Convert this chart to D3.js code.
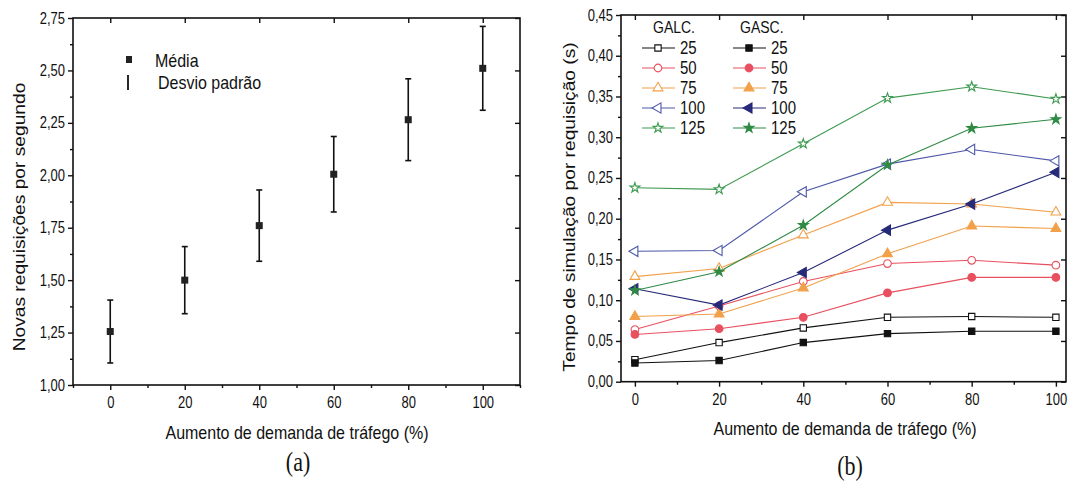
<!DOCTYPE html>
<html>
<head>
<meta charset="utf-8">
<script src="https://cdn.jsdelivr.net/npm/d3@7"></script>
<style>
  html, body { margin: 0; padding: 0; background: #fff; }
  svg { display: block; }
  text { font-family: 'Liberation Sans', Arial, sans-serif; fill: #111; }
  .axis path, .axis line { stroke: #111; }
</style>
</head>
<body>
<div id="chart"></div>
<script>
const WIDTH = 1068
const HEIGHT = 483
const SY = 1.2 // scan is stretched vertically

// (a) mean and standard deviation
const TRAFFIC = [0, 20, 40, 60, 80, 100]
const MEAN = [1.255, 1.50, 1.76, 2.005, 2.265, 2.51]
const STD = [0.15, 0.16, 0.17, 0.18, 0.195, 0.20]
const A_X_TICKS = [0, 20, 40, 60, 80, 100]
const A_Y_TICKS = [1.00, 1.25, 1.50, 1.75, 2.00, 2.25, 2.50, 2.75]

// (b) simulation time per request
const GALC_25 = [0.027, 0.048, 0.066, 0.079, 0.080, 0.079]
const GALC_50 = [0.064, 0.093, 0.123, 0.145, 0.149, 0.143]
const GALC_75 = [0.129, 0.139, 0.180, 0.220, 0.218, 0.208]
const GALC_100 = [0.160, 0.161, 0.233, 0.267, 0.285, 0.271]
const GALC_125 = [0.238, 0.236, 0.292, 0.348, 0.362, 0.347]
const GASC_25 = [0.023, 0.026, 0.048, 0.059, 0.062, 0.062]
const GASC_50 = [0.058, 0.065, 0.079, 0.109, 0.128, 0.128]
const GASC_75 = [0.080, 0.083, 0.115, 0.157, 0.191, 0.188]
const GASC_100 = [0.114, 0.094, 0.134, 0.186, 0.218, 0.257]
const GASC_125 = [0.112, 0.135, 0.192, 0.266, 0.311, 0.322]
const SIZES = ['25', '50', '75', '100', '125']
const B_Y_TICKS = [0, 0.05, 0.10, 0.15, 0.20, 0.25, 0.30, 0.35, 0.40, 0.45]

const COLORS = {
  '25': ['#111111', '#111111'],
  '50': ['#e8505f', '#e8505f'],
  '75': ['#f2a04a', '#f2a04a'],
  '100': ['#4d58a8', '#262a78'],
  '125': ['#3d9a50', '#2f8a44']
}

var series = []
SIZES.forEach((s, i) => {
  series.push({group: 'GALC', name: s, values: [GALC_25, GALC_50, GALC_75, GALC_100, GALC_125][i], filled: false})
  series.push({group: 'GASC', name: s, values: [GASC_25, GASC_50, GASC_75, GASC_100, GASC_125][i], filled: true})
})

var svg = d3.select('#chart').append('svg').attr('width', WIDTH).attr('height', HEIGHT)

var comma = d => d3.format('.2f')(d).replace('.', ',')

// stretched text, like the scanned figure
function label(text, x, y, size, opts) {
  opts = opts || {}
  var g = svg.append('g').attr('transform', `translate(${x},${y}) scale(1,${SY})` + (opts.rotate ? ' rotate(-90)' : ''))
  return g.append('text')
    .attr('text-anchor', opts.anchor || 'middle')
    .attr('dy', '0.35em')
    .style('font-size', size + 'px')
    .style('font-family', opts.family || null)
    .text(text)
}

// 坐标框: ticks outside on bottom/left, mirrored inside on top/right
function frame(x, y, xTicks, xMinor, yTicks, yMinor, xFmt, yFmt) {
  var [x0, x1] = x.range()
  var [y0, y1] = y.range()

  svg.append('rect')
    .attr('x', x0).attr('y', y1)
    .attr('width', x1 - x0).attr('height', y0 - y1)
    .attr('fill', 'none').attr('stroke', '#111').attr('stroke-width', 1.6)

  var bottom = svg.append('g').attr('class', 'axis').attr('transform', `translate(0,${y0})`)
    .call(d3.axisBottom(x).tickValues(xTicks).tickSize(5).tickSizeOuter(0).tickPadding(5).tickFormat(xFmt))
  svg.append('g').attr('class', 'axis').attr('transform', `translate(0,${y0})`)
    .call(d3.axisBottom(x).tickValues(xMinor).tickSize(3).tickSizeOuter(0).tickFormat(''))
  svg.append('g').attr('class', 'axis').attr('transform', `translate(0,${y1})`)
    .call(d3.axisBottom(x).tickValues(xTicks).tickSize(5).tickSizeOuter(0).tickFormat(''))

  var left = svg.append('g').attr('class', 'axis').attr('transform', `translate(${x0},0)`)
    .call(d3.axisLeft(y).tickValues(yTicks).tickSize(5).tickSizeOuter(0).tickPadding(3).tickFormat(yFmt))
  svg.append('g').attr('class', 'axis').attr('transform', `translate(${x0},0)`)
    .call(d3.axisLeft(y).tickValues(yMinor).tickSize(3).tickSizeOuter(0).tickFormat(''))
  svg.append('g').attr('class', 'axis').attr('transform', `translate(${x1},0)`)
    .call(d3.axisLeft(y).tickValues(yTicks).tickSize(5).tickSizeOuter(0).tickFormat(''))

  svg.selectAll('.axis path').remove()
  svg.selectAll('.axis line').attr('stroke-width', 1.4)
  bottom.selectAll('text').style('font-size', '13px').attr('fill', '#111').attr('transform', `scale(1,${SY})`)
  left.selectAll('text').style('font-size', '13px').attr('fill', '#111').attr('transform', `scale(1,${SY})`)
}

// ---------- (a) ----------
var xA = d3.scaleLinear().domain([-10, 110]).range([73, 520])
var yA = d3.scaleLinear().domain([1.0, 2.75]).range([385, 18])

frame(xA, yA, A_X_TICKS, [-10, 10, 30, 50, 70, 90, 110], A_Y_TICKS,
  d3.range(1.125, 2.75, 0.25), d => d, comma)

var dataA = TRAFFIC.map((t, i) => ({x: t, mean: MEAN[i], std: STD[i]}))
var errs = svg.append('g').selectAll('g').data(dataA).enter().append('g')
  .attr('stroke', '#111').attr('stroke-width', 1.6)
errs.append('line')
  .attr('x1', d => xA(d.x)).attr('x2', d => xA(d.x))
  .attr('y1', d => yA(d.mean - d.std)).attr('y2', d => yA(d.mean + d.std))
errs.append('line')
  .attr('x1', d => xA(d.x) - 3).attr('x2', d => xA(d.x) + 3)
  .attr('y1', d => yA(d.mean + d.std)).attr('y2', d => yA(d.mean + d.std))
errs.append('line')
  .attr('x1', d => xA(d.x) - 3).attr('x2', d => xA(d.x) + 3)
  .attr('y1', d => yA(d.mean - d.std)).attr('y2', d => yA(d.mean - d.std))
svg.append('g').selectAll('rect').data(dataA).enter().append('rect')
  .attr('x', d => xA(d.x) - 3.5).attr('y', d => yA(d.mean) - 3.5)
  .attr('width', 7).attr('height', 7).attr('fill', '#222')

// legend (a)
svg.append('rect').attr('x', 126).attr('y', 56).attr('width', 6).attr('height', 7).attr('fill', '#222')
label('Média', 155, 60, 16, {anchor: 'start'})
svg.append('line').attr('x1', 128).attr('x2', 128).attr('y1', 75).attr('y2', 90)
  .attr('stroke', '#111').attr('stroke-width', 1.8)
label('Desvio padrão', 158, 82, 16, {anchor: 'start'})

label('Novas requisições por segundo', 19, 217, 16, {rotate: true})
label('Aumento de demanda de tráfego (%)', 297, 432, 16)
label('(a)', 298, 462, 22, {family: "'Liberation Serif', 'Times New Roman', serif"})

// ---------- (b) ----------
var xB = d3.scaleLinear().domain([-3.3, 102.4]).range([621, 1066])
var yB = d3.scaleLinear().domain([0, 0.45]).range([381.7, 15])

frame(xB, yB, A_X_TICKS, [10, 30, 50, 70, 90], B_Y_TICKS,
  d3.range(0.025, 0.45, 0.05), d => d, comma)

var line = d3.line().x((d, i) => xB(TRAFFIC[i])).y(d => yB(d))

function marker(name) {
  if (name === '25') return {type: d3.symbolSquare, size: 40, rot: 0}
  if (name === '50') return {type: d3.symbolCircle, size: 46, rot: 0}
  if (name === '75') return {type: d3.symbolTriangle, size: 42, rot: 0}
  if (name === '100') return {type: d3.symbolTriangle, size: 46, rot: -90}
  return {type: d3.symbolStar, size: 30, rot: 0}
}

function drawMarker(g, s, cx, cy) {
  var m = marker(s.name)
  var color = COLORS[s.name][s.filled ? 1 : 0]
  g.append('path')
    .attr('d', d3.symbol().type(m.type).size(m.size)())
    .attr('transform', `translate(${cx},${cy}) rotate(${m.rot})`)
    .attr('fill', s.filled ? color : '#fff')
    .attr('stroke', color)
    .attr('stroke-width', 1.1)
}

var plotB = svg.append('g')
series.forEach(s => {
  var color = COLORS[s.name][s.filled ? 1 : 0]
  plotB.append('path').datum(s.values)
    .attr('d', line).attr('fill', 'none')
    .attr('stroke', color).attr('stroke-width', 1.1)
})
series.forEach(s => {
  s.values.forEach((v, i) => drawMarker(plotB, s, xB(TRAFFIC[i]), yB(v)))
})

// legend (b)
label('GALC.', 653, 27, 14, {anchor: 'start'})
label('GASC.', 740, 27, 14, {anchor: 'start'})
var legendY = d3.scalePoint().domain(SIZES).range([48, 128])
series.forEach(s => {
  var color = COLORS[s.name][s.filled ? 1 : 0]
  var lx = s.filled ? 733 : 642
  var ly = legendY(s.name)
  svg.append('line').attr('x1', lx).attr('x2', lx + 33).attr('y1', ly).attr('y2', ly)
    .attr('stroke', color).attr('stroke-width', 1.1)
  drawMarker(svg, s, lx + 16, ly)
  label(s.name, lx + 38, ly, 15, {anchor: 'start'})
})

label('Tempo de simulação por requisição (s)', 569, 207, 16, {rotate: true})
label('Aumento de demanda de tráfego (%)', 845, 428, 16)
label('(b)', 850, 466, 22, {family: "'Liberation Serif', 'Times New Roman', serif"})
</script>
</body>
</html>
